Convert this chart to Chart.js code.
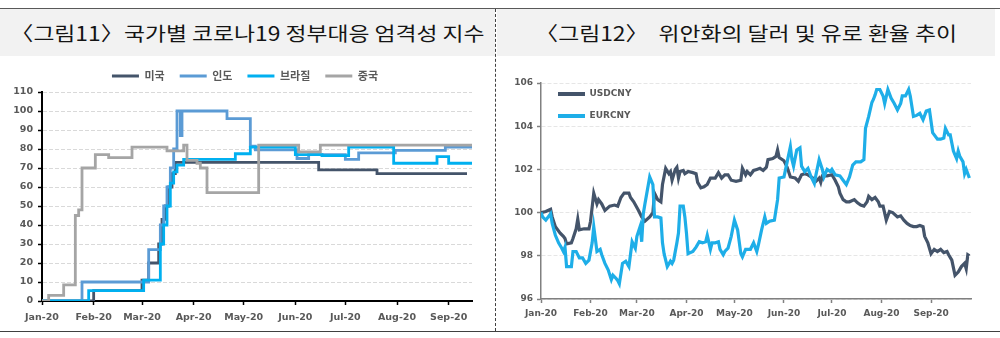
<!DOCTYPE html>
<html><head><meta charset="utf-8">
<script src="https://cdn.jsdelivr.net/npm/chart.js@4.4.1/dist/chart.umd.min.js"></script>
<style>
html,body{margin:0;padding:0;background:#fff;width:1000px;height:338px;overflow:hidden;position:relative;font-family:"Noto Sans CJK KR",sans-serif;}
.topline{position:absolute;left:0;top:8px;width:1000px;height:1px;background:#595959;}
.botline{position:absolute;left:0;top:331px;width:1000px;height:1px;background:#404040;}
.divider{position:absolute;left:495px;top:9px;height:322px;border-left:1px dashed #404040;}
.band{position:absolute;top:9px;height:47px;background:#f2f2f2;display:flex;align-items:center;justify-content:center;}
.band span{display:inline-block;font-size:19.5px;color:#141414;transform:scaleX(1.17);white-space:pre;}
.band b{font-weight:400;letter-spacing:-4px;}
canvas{position:absolute;}
</style></head>
<body>
<div class="topline"></div>
<div class="band" style="left:0;width:495px;"><span>〈그림11<b>〉</b> 국가별 코로나19 정부대응 엄격성 지수</span></div>
<div class="band" style="left:497px;width:498px;"><span>〈그림12〉  위안화의 달러 및 유로 환율 추이</span></div>
<div class="divider"></div>
<div class="botline"></div>
<canvas id="c1" width="490" height="268" style="left:0;top:60px;"></canvas>
<canvas id="c2" width="490" height="265" style="left:497px;top:60px;"></canvas>
<script>
// ---- shared axis labels (day of year 2020, 0 = Jan 1) ----
const monthStarts = [0, 31, 60, 91, 121, 152, 182, 213, 244];
const monthLabels = ['Jan-20','Feb-20','Mar-20','Apr-20','May-20','Jun-20','Jul-20','Aug-20','Sep-20'];

// ---- Figure 11: stringency index (value changes at given day) ----
const leftSeriesNames = ['미국','인도','브라질','중국'];
const usDays = [0, 31, 60, 64, 70, 72, 74, 76, 78, 80, 166, 201, 255];
const usVals = [0, 5.5, 11, 20, 30, 43, 50, 60, 67, 73, 69, 67, 67];
const inDays = [0, 24, 64, 71, 73, 75, 77, 79, 81, 83, 84, 111, 125, 128, 153, 160, 182, 190, 212, 242, 258];
const inVals = [0, 10, 27, 40, 50, 60, 70, 80, 100, 87, 100, 96, 81.5, 79.5, 75, 77, 74.5, 78, 79.3, 81, 81];
const brDays = [0, 28, 61, 71, 73, 75, 77, 79, 81, 85, 116, 125, 152, 168, 184, 211, 237, 244, 258];
const brVals = [0, 5.5, 11, 30, 40, 50, 62, 68, 71.5, 74.5, 77.5, 81, 77, 76.5, 81, 72.5, 76, 72.5, 72.5];
const cnDays = [0, 4, 13, 20, 22, 24, 32, 40, 54, 75, 85, 87, 93, 95, 99, 130, 154, 167, 258];
const cnVals = [0, 3, 8.5, 45, 48, 70, 77, 75.5, 81, 79, 82, 74, 72.5, 70, 57, 82, 78.5, 82, 82];
const leftTicks = {min: 0, max: 110, step: 10, xMax: 258};

// ---- Figure 12: CNY exchange rates (index) ----
const rightSeriesNames = ['USDCNY','EURCNY'];
const usdDays = [0,3,6,7,9,12,14,15,16,19,20,22,23,24,27,30,31,33,35,36,38,40,43,46,48,50,52,55,56,58,61,63,65,68,70,71,73,75,76,78,80,81,82,84,85,86,87,89,90,92,95,97,98,100,102,104,106,109,111,113,115,117,119,122,125,126,128,129,131,133,135,137,139,141,142,145,147,148,149,152,154,156,159,161,163,165,167,170,172,174,175,176,179,182,184,186,187,189,191,193,196,198,200,202,204,205,207,209,211,212,214,216,218,220,223,225,227,229,231,233,235,237,239,240,242,244,246,248,250,252,254,255,257,259,261,263,265,266,267,268];
const usdVals = [100.0,100.05,100.15,99.8,99.35,99.05,98.9,98.8,98.55,98.6,98.8,99.25,99.7,99.2,99.25,99.25,99.6,100.9,100.4,100.6,100.4,100.1,100.3,100.35,100.3,100.7,100.9,100.9,100.7,100.5,100.1,99.8,99.6,99.8,100.0,100.9,100.6,100.5,101.3,102.05,101.8,101.9,101.5,102.0,102.1,101.6,101.9,101.95,101.8,101.9,101.85,101.8,101.4,101.15,101.2,101.3,101.6,101.6,101.85,101.6,101.75,101.75,101.5,101.45,101.5,102.05,101.75,101.9,101.75,101.95,102.0,102.05,101.95,102.1,102.45,102.5,102.6,102.9,102.55,102.4,102.1,101.65,101.6,101.45,101.75,101.8,101.75,101.6,101.45,101.6,101.4,101.7,101.7,101.75,101.5,101.2,100.9,100.6,100.5,100.5,100.6,100.45,100.35,100.3,100.5,100.75,100.6,100.7,100.5,100.3,100.3,99.65,100.05,100.0,99.8,99.85,99.65,99.5,99.4,99.35,99.35,99.4,99.35,98.9,98.6,98.1,98.3,98.2,98.3,98.15,98.2,98.05,97.8,97.1,97.25,97.5,97.65,97.4,98.05,98.0];
const eurDays = [0,1,3,6,7,9,11,13,14,15,16,19,20,22,24,26,28,30,32,33,35,37,38,40,42,44,45,47,48,49,51,53,55,57,59,60,62,63,64,65,68,70,71,73,75,76,77,79,81,82,83,85,86,87,89,90,91,92,95,97,99,101,103,104,106,107,109,111,112,114,115,117,119,121,123,125,126,128,131,133,135,136,138,140,141,143,146,148,149,152,153,156,157,158,160,162,163,165,167,169,171,172,174,176,177,179,181,182,184,187,189,191,193,195,197,200,202,203,205,207,208,209,210,212,214,215,217,219,221,223,225,226,228,230,231,233,235,237,239,241,243,245,248,250,252,253,255,256,258,260,261,262,264,265,266,267,268];
const eurVals = [100.0,99.8,99.65,99.95,99.5,98.95,98.6,98.35,98.2,98.4,97.5,97.5,98.2,98.2,97.9,97.9,97.65,97.8,98.6,99.35,98.2,98.3,98.05,97.65,97.35,96.9,97.1,96.95,96.85,96.7,97.65,97.75,97.5,98.65,98.35,98.9,99.35,98.65,99.95,100.4,101.65,101.3,99.8,99.8,99.75,98.6,98.1,97.5,97.75,97.65,97.8,98.6,99.05,100.3,100.3,99.8,99.05,98.1,98.2,98.4,98.65,98.6,98.65,98.95,98.3,98.6,98.6,98.65,98.3,98.05,98.2,98.35,98.9,99.65,99.2,98.1,97.95,98.3,98.3,98.6,98.2,98.5,99.2,99.8,99.5,99.6,99.65,100.6,101.6,101.65,102.0,103.05,102.45,102.15,102.9,103.0,102.15,101.9,102.05,101.65,101.35,101.75,102.45,102.0,101.65,102.0,101.9,102.0,101.75,101.7,101.5,101.3,101.65,102.2,102.35,102.35,102.45,103.9,104.45,105.1,105.25,105.45,105.7,105.7,105.4,105.05,105.7,105.3,105.05,104.75,105.05,105.4,105.4,105.7,105.4,104.45,104.5,104.6,104.3,104.7,104.75,103.7,103.4,103.4,103.45,103.9,103.6,103.6,102.85,102.5,102.85,102.6,102.35,101.8,102.0,101.8,101.6];
const rightTicks = {min: 96, max: 106, step: 2, xMax: 269};

function zip(xs, ys) { return xs.map((x, i) => ({x: x, y: ys[i]})); }
function lineLabels(ch) {
  return ch.data.datasets.map((d, i) => ({text: d.label, fillStyle: d.borderColor, strokeStyle: d.borderColor,
    lineWidth: 0, hidden: false, datasetIndex: i, fontColor: '#595959'}));
}
function legendShift(dx, dy, h) {
  return {
    id: 'legendShift',
    afterInit(chart) {
      if (h) { const L = chart.legend; const f = L.fit; L.fit = function () { f.call(this); this.height = h; }; }
    },
    afterLayout(chart) {
      const L = chart.legend; L.left += dx; L.right += dx; L.top += dy; L.bottom += dy;
    }
  };
}
function monthAxis(xMax, font, tickColor, borderColor, borderWidth, h, pad) {
  return {
    type: 'linear', min: 0, max: xMax,
    afterBuildTicks: s => { s.ticks = monthStarts.map(v => ({value: v})); },
    afterFit: s => { s.height = h; },
    ticks: {callback: v => monthLabels[monthStarts.indexOf(v)], color: '#595959', font: font, padding: pad, maxRotation: 0, autoSkip: false},
    grid: {display: true, drawOnChartArea: false, drawTicks: true, tickLength: 4, tickColor: tickColor, tickWidth: 1.5},
    border: {display: true, color: borderColor, width: borderWidth}
  };
}

const fontL = {family: '"DejaVu Sans"', size: 9.5, weight: 'bold'};
const leftColors = ['#44546a', '#5b9bd5', '#00b0f0', '#a5a5a5'];
const leftData = [[usDays, usVals], [inDays, inVals], [brDays, brVals], [cnDays, cnVals]];
new Chart(document.getElementById('c1'), {
  type: 'line',
  data: {datasets: leftData.map((p, i) => ({
    label: leftSeriesNames[i], data: zip(p[0], p[1]), borderColor: leftColors[i], backgroundColor: leftColors[i],
    borderWidth: 2.8, stepped: true, pointRadius: 0, fill: false, order: 4 - i}))},
  options: {
    responsive: false, animation: false, devicePixelRatio: 1,
    layout: {padding: {left: 0, right: 18, top: 0, bottom: 0}},
    plugins: {
      legend: {position: 'top', align: 'center',
        labels: {boxWidth: 27, boxHeight: 3, padding: 15, color: '#595959',
          font: {family: '"Noto Sans CJK KR"', size: 11, weight: 'bold'}, generateLabels: lineLabels}},
      tooltip: {enabled: false}
    },
    scales: {
      x: monthAxis(leftTicks.xMax, fontL, '#000', '#000', 2, 27, 7),
      y: {min: leftTicks.min, max: leftTicks.max, afterFit: s => { s.width = 42; },
        ticks: {stepSize: leftTicks.step, color: '#595959', font: fontL, padding: 5},
        grid: {color: '#d9d9d9', lineWidth: 1, tickColor: '#000', tickLength: 4, tickWidth: 1.5},
        border: {color: '#000', width: 2, dash: [4, 2]}}
    }
  },
  plugins: [legendShift(9, -4.5, 32)]
});

const fontR = {family: '"DejaVu Sans"', size: 9, weight: 'bold'};
const rightColors = ['#44546a', '#1eaee8'];
const rightData = [[usdDays, usdVals], [eurDays, eurVals]];
new Chart(document.getElementById('c2'), {
  type: 'line',
  data: {datasets: rightData.map((p, i) => ({
    label: rightSeriesNames[i], data: zip(p[0], p[1]), borderColor: rightColors[i], backgroundColor: rightColors[i],
    borderWidth: 3.2, pointRadius: 0, tension: 0, fill: false, order: 2 - i}))},
  options: {
    responsive: false, animation: false, devicePixelRatio: 1,
    layout: {padding: {left: 0, right: 16, top: 23, bottom: 0}},
    plugins: {
      legend: {position: 'chartArea', align: 'start',
        labels: {boxWidth: 27, boxHeight: 4, padding: 13, color: '#595959', font: fontR, generateLabels: lineLabels}},
      tooltip: {enabled: false}
    },
    scales: {
      x: monthAxis(rightTicks.xMax, fontR, '#808080', '#808080', 1.5, 26, 5),
      y: {min: rightTicks.min, max: rightTicks.max, afterFit: s => { s.width = 44; },
        ticks: {stepSize: rightTicks.step, color: '#595959', font: fontR, padding: 4},
        grid: {color: '#e6e6e6', lineWidth: 1, tickColor: '#808080', tickLength: 4, tickWidth: 1.5},
        border: {color: '#808080', width: 1.5, dash: [4, 2]}}
    }
  },
  plugins: [legendShift(4, 16.5, 0)]
});
</script>
</body></html>
